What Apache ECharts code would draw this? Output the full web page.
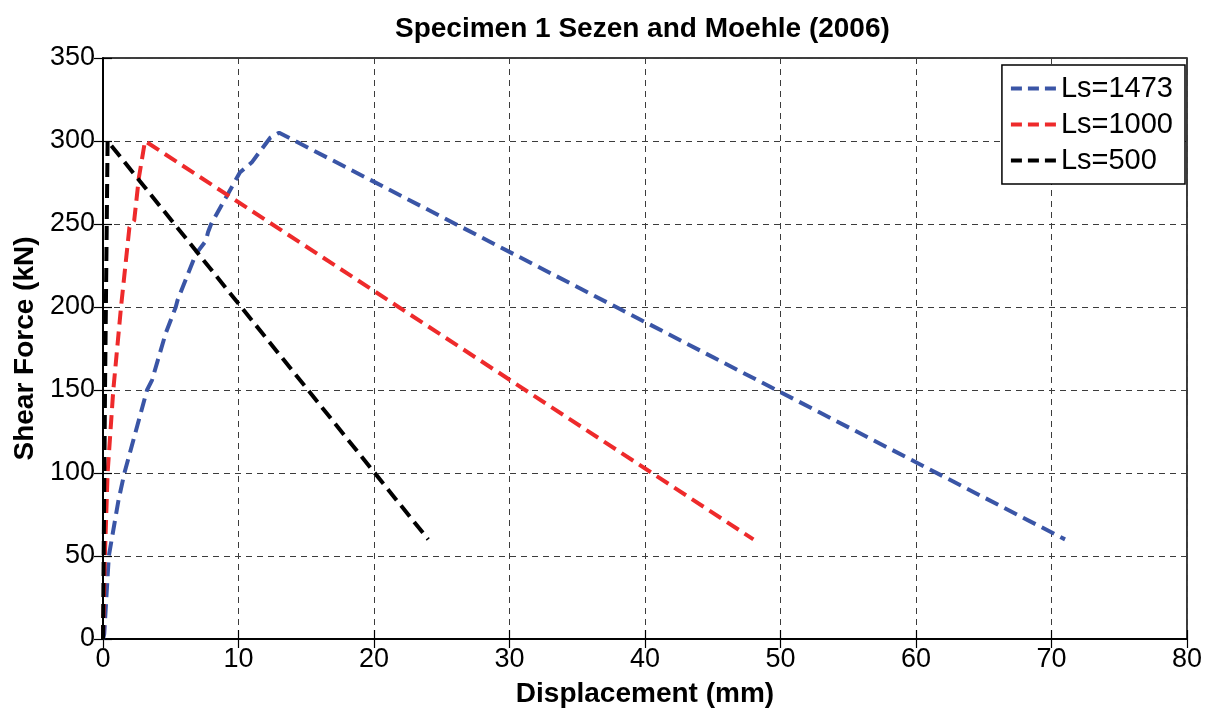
<!DOCTYPE html>
<html>
<head>
<meta charset="utf-8">
<title>Specimen 1 Sezen and Moehle (2006)</title>
<script src="https://cdn.jsdelivr.net/npm/echarts@6/dist/echarts.min.js"></script>
<style>
  html, body { margin: 0; padding: 0; background: #fff; }
  #chart { width: 1205px; height: 713px; }
</style>
</head>
<body>
<div id="chart"></div>
<script>
// Shear force vs. displacement curves for three shear-span lengths
var ls1473Disp  = [0, 0.09, 0.43, 1.13, 1.58, 3.25, 3.62, 4.62, 5.37, 5.5, 6.86, 7.6, 7.75, 7.98, 10.1, 10.97, 12.34, 13.0, 71.0];
var ls1473Force = [0, 3, 50, 83, 100, 150, 156, 184, 200, 204, 232, 240, 245, 250, 281, 287, 302, 305, 60];

var ls1000Disp  = [0, 0.14, 0.34, 0.76, 1.33, 1.95, 2.3, 2.65, 3.1, 48.0];
var ls1000Force = [0, 50, 100, 150, 200, 248, 252, 278, 300, 60];

var ls500Disp   = [0, 0.15, 0.34, 24.0];
var ls500Force  = [0, 150, 300, 60];

var seriesNames = ['Ls=1473', 'Ls=1000', 'Ls=500'];
var seriesColors = ['#3A55A6', '#EE2A2B', '#000000'];

// three short dashes used as the legend key
var dashIcon = 'path://M0 0H11V4H0Z M17 0H28V4H17Z M34 0H45V4H34Z';

function pairs(xs, ys) {
  return xs.map(function (x, i) { return [x, ys[i]]; });
}

var curves = [
  pairs(ls1473Disp, ls1473Force),
  pairs(ls1000Disp, ls1000Force),
  pairs(ls500Disp, ls500Force)
];

var tickFont = { fontFamily: 'Liberation Sans, Arial, sans-serif', fontSize: 27, color: '#000' };
var nameFont = { fontFamily: 'Liberation Sans, Arial, sans-serif', fontSize: 28, fontWeight: 'bold', color: '#000', lineHeight: 28 };

var splitDash = { show: true, lineStyle: { color: '#3c3c3c', width: 1, type: [6, 5] } };
var axisBlack = { show: true, lineStyle: { color: '#000', width: 1.5 } };
var tickIn = { show: true, inside: true, length: 9, lineStyle: { color: '#000', width: 1.2 } };

var chart = echarts.init(document.getElementById('chart'), null, { renderer: 'canvas' });

chart.setOption({
  backgroundColor: '#fff',
  animation: false,
  title: {
    text: 'Specimen 1 Sezen and Moehle (2006)',
    left: 395,
    top: 15,
    padding: 0,
    textStyle: { fontFamily: 'Liberation Sans, Arial, sans-serif', fontSize: 28, fontWeight: 'bold', color: '#000', lineHeight: 28 }
  },
  legend: {
    data: seriesNames.map(function (n) { return { name: n, icon: dashIcon }; }),
    orient: 'vertical',
    right: 20,
    top: 65,
    padding: [9, 12, 9, 9],
    itemGap: 7,
    itemWidth: 45,
    itemHeight: 4,
    symbolKeepAspect: false,
    backgroundColor: '#fff',
    borderColor: '#000',
    borderWidth: 1.5,
    borderRadius: 0,
    textStyle: { fontFamily: 'Liberation Sans, Arial, sans-serif', fontSize: 29, color: '#000', lineHeight: 26 }
  },
  grid: {
    left: 103,
    right: 15,
    top: 58,
    bottom: 67,
    containLabel: false,
    show: true,
    borderColor: '#000',
    borderWidth: 1.5,
    backgroundColor: '#fff'
  },
  xAxis: [
    {
      type: 'value',
      min: 0, max: 80, interval: 10,
      name: 'Displacement (mm)',
      nameLocation: 'middle',
      nameGap: 41,
      nameTextStyle: nameFont,
      axisLine: axisBlack,
      axisTick: tickIn,
      axisLabel: Object.assign({ margin: 7 }, tickFont),
      splitLine: splitDash
    },
    {
      type: 'value',
      position: 'top',
      min: 0, max: 80, interval: 10,
      axisLine: axisBlack,
      axisTick: tickIn,
      axisLabel: { show: false },
      splitLine: { show: false }
    }
  ],
  yAxis: [
    {
      type: 'value',
      min: 0, max: 350, interval: 50,
      name: 'Shear Force (kN)',
      nameLocation: 'middle',
      nameGap: 58,
      nameTextStyle: nameFont,
      axisLine: axisBlack,
      axisTick: tickIn,
      axisLabel: Object.assign({ margin: 8 }, tickFont),
      splitLine: splitDash
    },
    {
      type: 'value',
      position: 'right',
      min: 0, max: 350, interval: 50,
      axisLine: axisBlack,
      axisTick: tickIn,
      axisLabel: { show: false },
      splitLine: { show: false }
    }
  ],
  series: curves.map(function (data, i) {
    return {
      name: seriesNames[i],
      type: 'line',
      data: data,
      xAxisIndex: 0,
      yAxisIndex: 0,
      symbol: 'none',
      smooth: false,
      color: seriesColors[i],
      lineStyle: { color: seriesColors[i], width: 4, type: [14, 7] },
      z: 3 + i
    };
  })
});
</script>
</body>
</html>
